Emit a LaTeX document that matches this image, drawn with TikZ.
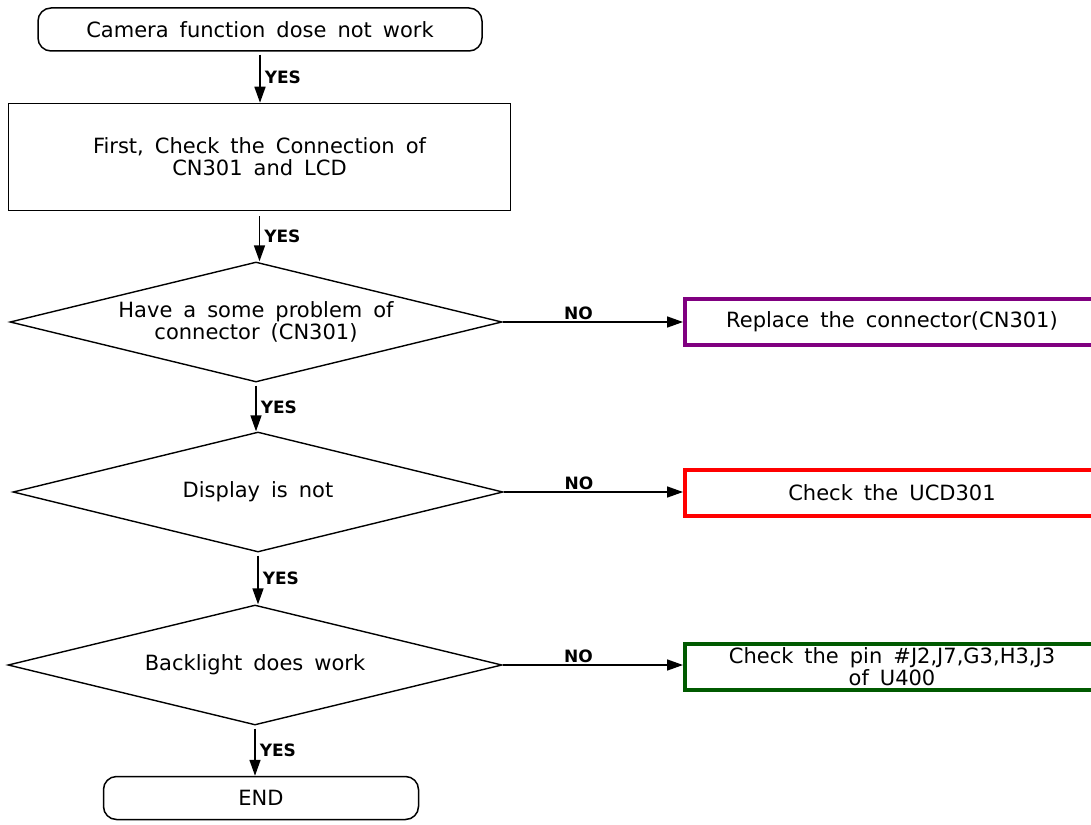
\documentclass[tikz,border=0pt]{standalone}
\usepackage{fontspec}
\setmainfont{DejaVu Sans}
\usetikzlibrary{positioning,arrows.meta,shapes.geometric}
\definecolor{replpurple}{RGB}{128,0,128}
\definecolor{ucdred}{RGB}{255,0,0}
\definecolor{pingreen}{RGB}{0,90,0}
\newcommand{\flowfont}{\fontsize{21}{22}\selectfont\spaceskip=11pt plus 2pt minus 1pt\relax}
\tikzset{
  term/.style={draw,line width=1.5pt,rounded corners=13pt,align=center,font=\flowfont,
               inner sep=2pt,minimum height=43pt},
  proc/.style={draw,line width=1.5pt,align=center,font=\flowfont,inner sep=2pt},
  decide/.style={draw,diamond,aspect=4.1,line width=1.4pt,align=center,font=\flowfont,
                 inner sep=2pt,minimum height=120pt},
  outbox/.style={draw,line width=4pt,align=center,font=\flowfont,inner xsep=2pt,inner ysep=0pt,
                 anchor=west,minimum width=414pt,minimum height=46pt},
  arr/.style={-{Triangle[length=16pt,width=11pt]},line width=1.6pt},
  yeslbl/.style={font=\fontsize{17}{19}\selectfont\bfseries,anchor=west,inner sep=1pt,xshift=3pt},
  nolbl/.style={font=\fontsize{17}{19}\selectfont\bfseries,above,inner sep=1pt}
}

\begin{document}
\begin{tikzpicture}[x=1pt,y=-1pt]
  \useasboundingbox (0,0) rectangle (1091,824);
  \clip (0,0) rectangle (1091,824);
  \node[term,minimum width=444pt] (start) at (260,29.5) {Camera function dose not work};
  \node[proc,minimum width=502pt,minimum height=107pt] (conn) at (259.5,157)
    {First, Check the Connection of\\CN301 and LCD};
  \node[decide,minimum width=492pt] (prob) at (256,322) {Have a some problem of\\connector (CN301)};
  \node[decide,minimum width=490pt] (disp) at (258,492) {Display is not};
  \node[decide,minimum width=494pt] (blit) at (255,665) {Backlight does work};
  \node[term,minimum width=315pt] (fin) at (261,798) {END};
  \node[outbox,draw=replpurple] (repl) at (683,321.5) {Replace the connector(CN301)};
  \node[outbox,draw=ucdred] (ucd) at (683,493) {Check the UCD301};
  \node[outbox,draw=pingreen] (pins) at (683,666.5) {Check the pin \#J2,J7,G3,H3,J3\\of U400};

  \draw[arr,shorten <=3pt] (start.south) -- (start.south |- conn.north) node[midway,yeslbl] {YES};
  \draw[arr,shorten <=5pt] (conn.south) -- (conn.south |- prob.north) node[midway,yeslbl] {YES};
  \draw[arr,shorten <=3pt] (prob.south) -- (prob.south |- disp.north) node[midway,yeslbl] {YES};
  \draw[arr,shorten <=3pt] (disp.south) -- (disp.south |- blit.north) node[midway,yeslbl] {YES};
  \draw[arr,shorten <=3pt] (blit.south) -- (blit.south |- fin.north) node[midway,yeslbl] {YES};
  \draw[arr] (prob.east) -- (prob.east -| repl.west) node[pos=0.42,nolbl] {NO};
  \draw[arr] (disp.east) -- (disp.east -| ucd.west) node[pos=0.42,nolbl] {NO};
  \draw[arr] (blit.east) -- (blit.east -| pins.west) node[pos=0.42,nolbl] {NO};
\end{tikzpicture}
\end{document}
